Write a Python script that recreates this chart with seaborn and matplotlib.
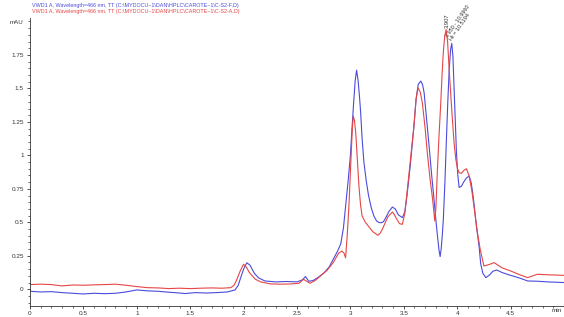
import matplotlib
matplotlib.use("Agg")
import matplotlib.pyplot as plt
from matplotlib.ticker import MultipleLocator, FuncFormatter
import seaborn as sns
import pandas as pd

# ---- data ----
blue_label = r"VWD1 A, Wavelength=466 nm, TT (C:\MYDOCU~1\DAN\HPLC\CAROTE~1\C-S2-F.D)"
red_label = r"VWD1 A, Wavelength=466 nm, TT (C:\MYDOCU~1\DAN\HPLC\CAROTE~1\C-S2-A.D)"

blue_t = [0.00, 0.10, 0.20, 0.30, 0.40, 0.50, 0.60, 0.70, 0.80, 0.90, 1.00, 1.10, 1.20, 1.30,
          1.40, 1.45, 1.55, 1.65, 1.75, 1.85, 1.92, 1.95, 1.97, 2.00, 2.03, 2.06, 2.08, 2.10,
          2.14, 2.20, 2.30, 2.40, 2.50, 2.55, 2.58, 2.61, 2.65, 2.70, 2.75, 2.80, 2.85, 2.88,
          2.91, 2.935, 2.955, 2.98, 3.00, 3.015, 3.03, 3.045, 3.058, 3.072, 3.085, 3.096, 3.11,
          3.127, 3.15, 3.17, 3.195, 3.22, 3.245, 3.268, 3.29, 3.31, 3.335, 3.36, 3.393, 3.42,
          3.45, 3.487, 3.51, 3.53, 3.56, 3.595, 3.615, 3.635, 3.659, 3.675, 3.69, 3.71, 3.737,
          3.76, 3.783, 3.80, 3.815, 3.83, 3.84, 3.85, 3.86, 3.87, 3.885, 3.90, 3.912, 3.925,
          3.938, 3.949, 3.96, 3.97, 3.982, 3.993, 4.005, 4.018, 4.04, 4.06, 4.085, 4.112, 4.13,
          4.145, 4.16, 4.18, 4.205, 4.22, 4.24, 4.268, 4.30, 4.335, 4.37, 4.42, 4.50, 4.58,
          4.66, 4.75, 4.85, 5.00]
blue_mau = [-0.015, -0.020, -0.018, -0.025, -0.030, -0.035, -0.030, -0.033, -0.030, -0.020,
            -0.005, -0.012, -0.015, -0.022, -0.028, -0.032, -0.025, -0.028, -0.025, -0.020,
            -0.005, 0.030, 0.080, 0.150, 0.198, 0.180, 0.150, 0.120, 0.085, 0.062, 0.055, 0.058,
            0.055, 0.070, 0.095, 0.060, 0.065, 0.090, 0.120, 0.165, 0.240, 0.285, 0.340, 0.460,
            0.620, 0.820, 1.000, 1.200, 1.390, 1.560, 1.636, 1.560, 1.440, 1.320, 1.120, 0.945,
            0.800, 0.700, 0.610, 0.547, 0.510, 0.498, 0.497, 0.505, 0.540, 0.580, 0.614, 0.600,
            0.555, 0.535, 0.580, 0.700, 0.920, 1.220, 1.420, 1.530, 1.555, 1.530, 1.470, 1.300,
            1.070, 0.860, 0.670, 0.520, 0.400, 0.290, 0.244, 0.300, 0.400, 0.520, 0.800, 1.140,
            1.400, 1.640, 1.790, 1.836, 1.740, 1.520, 1.260, 1.020, 0.860, 0.760, 0.770, 0.800,
            0.830, 0.846, 0.800, 0.720, 0.620, 0.470, 0.320, 0.190, 0.120, 0.087, 0.105, 0.135,
            0.144, 0.125, 0.104, 0.085, 0.062, 0.060, 0.055, 0.050]

red_t = [0.00, 0.10, 0.20, 0.30, 0.40, 0.50, 0.60, 0.70, 0.80, 0.90, 1.00, 1.10, 1.20, 1.30,
         1.40, 1.50, 1.60, 1.70, 1.80, 1.88, 1.91, 1.93, 1.97, 2.00, 2.03, 2.05, 2.07, 2.11,
         2.16, 2.25, 2.35, 2.45, 2.52, 2.56, 2.59, 2.62, 2.67, 2.72, 2.78, 2.84, 2.89, 2.92,
         2.94, 2.955, 2.97, 2.986, 3.008, 3.018, 3.027, 3.038, 3.05, 3.065, 3.08, 3.095, 3.11,
         3.14, 3.17, 3.21, 3.258, 3.28, 3.30, 3.35, 3.393, 3.41, 3.43, 3.46, 3.487, 3.51, 3.53,
         3.56, 3.595, 3.615, 3.633, 3.655, 3.674, 3.70, 3.72, 3.745, 3.77, 3.79, 3.80, 3.815,
         3.83, 3.846, 3.858, 3.87, 3.883, 3.896, 3.91, 3.925, 3.94, 3.955, 3.97, 3.987, 4.003,
         4.018, 4.04, 4.065, 4.087, 4.11, 4.125, 4.14, 4.165, 4.19, 4.215, 4.237, 4.25, 4.30,
         4.346, 4.42, 4.50, 4.58, 4.66, 4.75, 4.85, 5.00]
red_mau = [0.035, 0.038, 0.035, 0.025, 0.032, 0.030, 0.033, 0.035, 0.038, 0.030, 0.020, 0.012,
           0.010, 0.005, 0.008, 0.005, 0.008, 0.010, 0.008, 0.012, 0.030, 0.060, 0.140, 0.187,
           0.160, 0.130, 0.110, 0.075, 0.055, 0.040, 0.038, 0.040, 0.045, 0.075, 0.060, 0.045,
           0.065, 0.100, 0.140, 0.200, 0.270, 0.285, 0.270, 0.235, 0.400, 0.620, 1.020, 1.200,
           1.293, 1.260, 1.170, 0.970, 0.770, 0.630, 0.547, 0.500, 0.470, 0.430, 0.403, 0.420,
           0.450, 0.540, 0.577, 0.560, 0.530, 0.490, 0.485, 0.570, 0.720, 0.950, 1.220, 1.420,
           1.505, 1.470, 1.390, 1.200, 1.020, 0.830, 0.670, 0.510, 0.600, 0.895, 1.150, 1.390,
           1.600, 1.770, 1.890, 1.940, 1.850, 1.640, 1.450, 1.270, 1.100, 0.970, 0.900, 0.870,
           0.866, 0.890, 0.900, 0.850, 0.790, 0.720, 0.570, 0.420, 0.300, 0.220, 0.174, 0.185,
           0.199, 0.160, 0.137, 0.110, 0.087, 0.112, 0.108, 0.104]

x_ticks = [0, 0.5, 1, 1.5, 2, 2.5, 3, 3.5, 4, 4.5]
y_ticks = [0, 0.25, 0.5, 0.75, 1, 1.25, 1.5, 1.75]

peak_red_rt = 3.907
peak_blue_rt = 3.950
peak_red_text = "3.907"
peak_blue_text = "3.950 - 10.9960\nHt = 10.5194"

blue_col = "#4b4bdc"
red_col = "#e64646"

# ---- plot ----
sns.set_style("ticks")
plt.rcParams["font.family"] = ["Liberation Sans", "DejaVu Sans"]

fig = plt.figure(figsize=(5.64, 3.17), dpi=100)
ax = fig.add_axes([30 / 564, 11 / 317, 534 / 564, 288 / 317])

df_b = pd.DataFrame({"t": blue_t, "mau": blue_mau})
df_r = pd.DataFrame({"t": red_t, "mau": red_mau})
sns.lineplot(data=df_b, x="t", y="mau", ax=ax, color=blue_col, lw=0.8,
             estimator=None, sort=False)
sns.lineplot(data=df_r, x="t", y="mau", ax=ax, color=red_col, lw=0.8,
             estimator=None, sort=False)

ax.set_xlim(0, 5.0)
ax.set_ylim(-0.125, 2.026)
ax.set_xlabel("")
ax.set_ylabel("")
ax.set_xticks(x_ticks)
ax.set_yticks(y_ticks)
ax.xaxis.set_minor_locator(MultipleLocator(0.1))
ax.yaxis.set_minor_locator(MultipleLocator(0.05))
fmt = FuncFormatter(lambda v, p: f"{v:g}")
ax.xaxis.set_major_formatter(fmt)
ax.yaxis.set_major_formatter(fmt)
ax.tick_params(axis="both", which="major", length=2.5, width=0.6, labelsize=4.6,
               colors="#333333", pad=1.0)
ax.tick_params(axis="y", which="major", pad=2.0)
ax.tick_params(axis="both", which="minor", length=1.6, width=0.5, colors="#333333")
for side in ("top", "right"):
    ax.spines[side].set_visible(False)
for side in ("left", "bottom"):
    ax.spines[side].set_linewidth(0.6)
    ax.spines[side].set_color("#333333")

ax.text(peak_red_rt, 1.955, peak_red_text, rotation=90, fontsize=4.2,
        ha="center", va="bottom", color="#333333")
ax.text(peak_blue_rt + 0.01, 1.85, peak_blue_text, rotation=55, fontsize=4.0,
        ha="left", va="bottom", color="#333333", rotation_mode="anchor",
        linespacing=1.0)

fig.text(32 / 564, 1 - 5 / 317, blue_label, color=blue_col, fontsize=3.9,
         ha="left", va="center")
fig.text(32 / 564, 1 - 12 / 317, red_label, color=red_col, fontsize=3.9,
         ha="left", va="center")
fig.text(10 / 564, 1 - 23 / 317, "mAU", fontsize=4.4, ha="left", va="center",
         color="#333333")
fig.text(552 / 564, 1 - 311 / 317, "min", fontsize=4.6, ha="left", va="center",
         color="#333333")

fig.savefig("out.png", dpi=100)
